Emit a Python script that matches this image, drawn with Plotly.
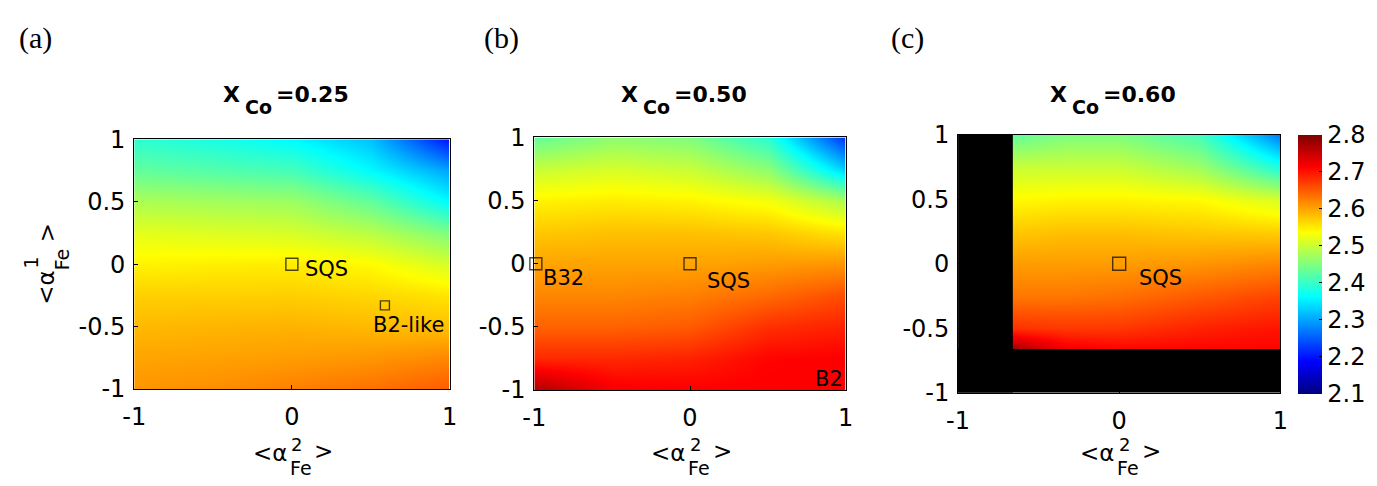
import plotly.graph_objects as go

# ---------------- data ----------------
# panel (a)  X_Co = 0.25
a_x = [-1.0, -0.5, 0.0, 0.5, 1.0]
a_y = [-1.0, -0.75, -0.5, -0.25, 0.0, 0.25, 0.5, 0.75, 1.0]
a_z = [
    [2.61, 2.615, 2.625, 2.635, 2.65],
    [2.60, 2.602, 2.605, 2.61, 2.62],
    [2.585, 2.588, 2.59, 2.585, 2.58],
    [2.57, 2.57, 2.57, 2.565, 2.555],
    [2.545, 2.548, 2.55, 2.54, 2.51],
    [2.52, 2.515, 2.51, 2.49, 2.45],
    [2.48, 2.475, 2.47, 2.43, 2.36],
    [2.43, 2.42, 2.41, 2.36, 2.30],
    [2.394, 2.38, 2.36, 2.32, 2.20],
]
# panel (b)  X_Co = 0.50
b_x = [-1.0, -0.5, 0.0, 0.5, 1.0]
b_y = [-1.0, -0.75, -0.5, -0.25, 0.0, 0.25, 0.5, 0.75, 1.0]
b_z = [
    [2.77, 2.72, 2.715, 2.715, 2.715],
    [2.685, 2.685, 2.69, 2.71, 2.715],
    [2.645, 2.645, 2.65, 2.68, 2.69],
    [2.62, 2.62, 2.625, 2.64, 2.66],
    [2.60, 2.60, 2.60, 2.605, 2.61],
    [2.575, 2.58, 2.58, 2.575, 2.555],
    [2.545, 2.55, 2.545, 2.53, 2.48],
    [2.50, 2.51, 2.50, 2.46, 2.33],
    [2.43, 2.46, 2.45, 2.39, 2.22],
]
# panel (c)  X_Co = 0.60  (only the region x, y >= mask limits is defined)
c_x = [-0.66, -0.33, 0.0, 0.5, 1.0]
c_y = [-0.66, -0.5, -0.25, 0.0, 0.25, 0.5, 0.75, 1.0]
c_z = [
    [2.775, 2.72, 2.71, 2.71, 2.71],
    [2.68, 2.675, 2.675, 2.69, 2.70],
    [2.63, 2.63, 2.635, 2.65, 2.665],
    [2.605, 2.605, 2.605, 2.61, 2.62],
    [2.575, 2.58, 2.58, 2.575, 2.57],
    [2.54, 2.545, 2.545, 2.54, 2.51],
    [2.50, 2.50, 2.50, 2.47, 2.38],
    [2.43, 2.45, 2.45, 2.41, 2.27],
]
c_mask_x = -0.66
c_mask_y = -0.66

title_values = ["0.25", "0.50", "0.60"]
panel_tags = ["(a)", "(b)", "(c)"]

# labelled configurations: marker position and label position
a_pts = {"name": ["SQS", "B2-like"], "mx": [0.0, 0.59], "my": [0.0, -0.33],
         "ms": [12, 9], "lx": [0.22, 0.74], "ly": [-0.035, -0.49]}
b_pts = {"name": ["B32", "SQS", "B2"], "mx": [-0.99, 0.0, 0.99], "my": [0.0, 0.0, -1.02],
         "ms": [12, 12, 12], "lx": [-0.815, 0.25, 0.89], "ly": [-0.11, -0.14, -0.91]}
c_pts = {"name": ["SQS"], "mx": [0.0], "my": [0.0], "ms": [13],
         "lx": [0.255], "ly": [-0.11]}

x_tickvals = [-1, 0, 1]
x_ticktext = ["-1", "0", "1"]
y_tickvals = [-1, -0.5, 0, 0.5, 1]
y_ticktext = ["-1", "-0.5", "0", "0.5", "1"]
cbar_tickvals = [2.1, 2.2, 2.3, 2.4, 2.5, 2.6, 2.7, 2.8]
cbar_ticktext = ["2.1", "2.2", "2.3", "2.4", "2.5", "2.6", "2.7", "2.8"]
zmin, zmax = 2.1, 2.8

# ---------------- style ----------------
W, H = 1377, 486
FONT = "DejaVu Sans, Arial, sans-serif"
SERIF = "Liberation Serif, Times New Roman, serif"
jet = [[0.0, "rgb(0,0,128)"], [0.125, "rgb(0,0,255)"], [0.375, "rgb(0,255,255)"],
       [0.625, "rgb(255,255,0)"], [0.875, "rgb(255,0,0)"], [1.0, "rgb(128,0,0)"]]

# pixel boxes of the three panels (left, right, top, bottom)
boxes = [(124, 444, 133, 398), (530, 846, 131, 399), (960, 1287, 128, 402)]


def dom(b):
    l, r, t, bt = b
    return [l / W, r / W], [(H - bt) / H, (H - t) / H]


def py(pix):
    return (H - pix) / H


def txt(fig, x, y, text, size, xshift=0, angle=0, family=FONT, xanchor="center",
        yanchor="middle"):
    fig.add_annotation(x=x, y=y, xref="paper", yref="paper", text=text, showarrow=False,
                       font=dict(family=family, size=size, color="black"),
                       xanchor=xanchor, yanchor=yanchor, xshift=xshift, textangle=angle,
                       borderpad=0)


fig = go.Figure()
panels = [(a_x, a_y, a_z, a_pts), (b_x, b_y, b_z, b_pts), (c_x, c_y, c_z, c_pts)]
for i, (xs, ys, zs, pts) in enumerate(panels):
    xa = "x" if i == 0 else f"x{i+1}"
    ya = "y" if i == 0 else f"y{i+1}"
    fig.add_trace(go.Heatmap(x=xs, y=ys, z=zs, zsmooth="best", coloraxis="coloraxis",
                             xaxis=xa, yaxis=ya, hoverinfo="skip"))
    fig.add_trace(go.Scatter(x=pts["mx"], y=pts["my"], mode="markers", xaxis=xa, yaxis=ya,
                             marker=dict(symbol="square-open", size=pts["ms"],
                                         color="black", line=dict(width=1.4)),
                             cliponaxis=False, showlegend=False, hoverinfo="skip"))
    for n, lx, ly in zip(pts["name"], pts["lx"], pts["ly"]):
        fig.add_annotation(x=lx, y=ly, xref=xa, yref=ya, text=n, showarrow=False,
                           font=dict(family=FONT, size=21, color="black"),
                           xanchor="center", yanchor="middle")

    xd, yd = dom(boxes[i])
    axk = "xaxis" if i == 0 else f"xaxis{i+1}"
    ayk = "yaxis" if i == 0 else f"yaxis{i+1}"
    common = dict(showline=True, linecolor="black", linewidth=1, mirror=True,
                  showgrid=False, zeroline=False, ticks="inside", ticklen=4,
                  tickcolor="black", tickfont=dict(family=FONT, size=24, color="black"))
    fig.layout[axk] = dict(domain=xd, range=[-1, 1], anchor=ya, tickvals=x_tickvals,
                           ticktext=x_ticktext, ticklabelstandoff=6, **common)
    fig.layout[ayk] = dict(domain=yd, range=[-1, 1], anchor=xa, tickvals=y_tickvals,
                           ticktext=y_ticktext, ticklabelstandoff=3, **common)

    cx = (xd[0] + xd[1]) / 2
    # title  X_Co = ...
    txt(fig, cx, py(85), "<b>X</b>", 22, xshift=-51, xanchor="right")
    txt(fig, cx, py(99), "<b>Co</b>", 19, xshift=-48, xanchor="left")
    txt(fig, cx, py(85), "<b>=" + title_values[i] + "</b>", 22, xshift=-17, xanchor="left")
    # x-axis label  <alpha^2_Fe>
    txt(fig, cx, py(466), "&lt;α", 23, xshift=-4, xanchor="right")
    txt(fig, cx, py(457), "2", 18, xshift=5)
    txt(fig, cx, py(482), "Fe", 19, xshift=9)
    txt(fig, cx, py(464), "&gt;", 23, xshift=32)
    # panel tag
    txt(fig, [6, 478, 891][i] / W, py(25), panel_tags[i], 30, family=SERIF,
        xanchor="left")

# y-axis label of panel (a)  <alpha^1_Fe>  (rotated)
txt(fig, 35 / W, py(290), "&lt;α", 23, angle=-90)
txt(fig, 19 / W, py(264), "1", 19, angle=-90)
txt(fig, 51 / W, py(260), "Fe", 19, angle=-90)
txt(fig, 35 / W, py(232), "&gt;", 23, angle=-90)

# black (undefined) region of panel (c)
for (x0, x1, y0, y1) in [(-1, c_mask_x, -1, 1), (-1, 1, -1, c_mask_y)]:
    fig.add_shape(type="rect", xref="x3", yref="y3", x0=x0, x1=x1, y0=y0, y1=y1,
                  fillcolor="black", line=dict(width=0), layer="above")

fig.update_layout(
    width=W, height=H, autosize=False,
    margin=dict(l=0, r=0, t=0, b=0),
    paper_bgcolor="white", plot_bgcolor="white",
    showlegend=False,
    coloraxis=dict(
        cmin=zmin, cmax=zmax, colorscale=jet,
        colorbar=dict(
            x=1305 / W, xanchor="left", y=(H - 403) / H, yanchor="bottom",
            len=275 / H, lenmode="fraction", thickness=24, thicknessmode="pixels",
            xpad=0, ypad=0, outlinewidth=0,
            tickvals=cbar_tickvals, ticktext=cbar_ticktext,
            ticks="inside", ticklen=3, tickcolor="black",
            tickfont=dict(family=FONT, size=24, color="black"),
        ),
    ),
)

fig.write_html("out.html")
